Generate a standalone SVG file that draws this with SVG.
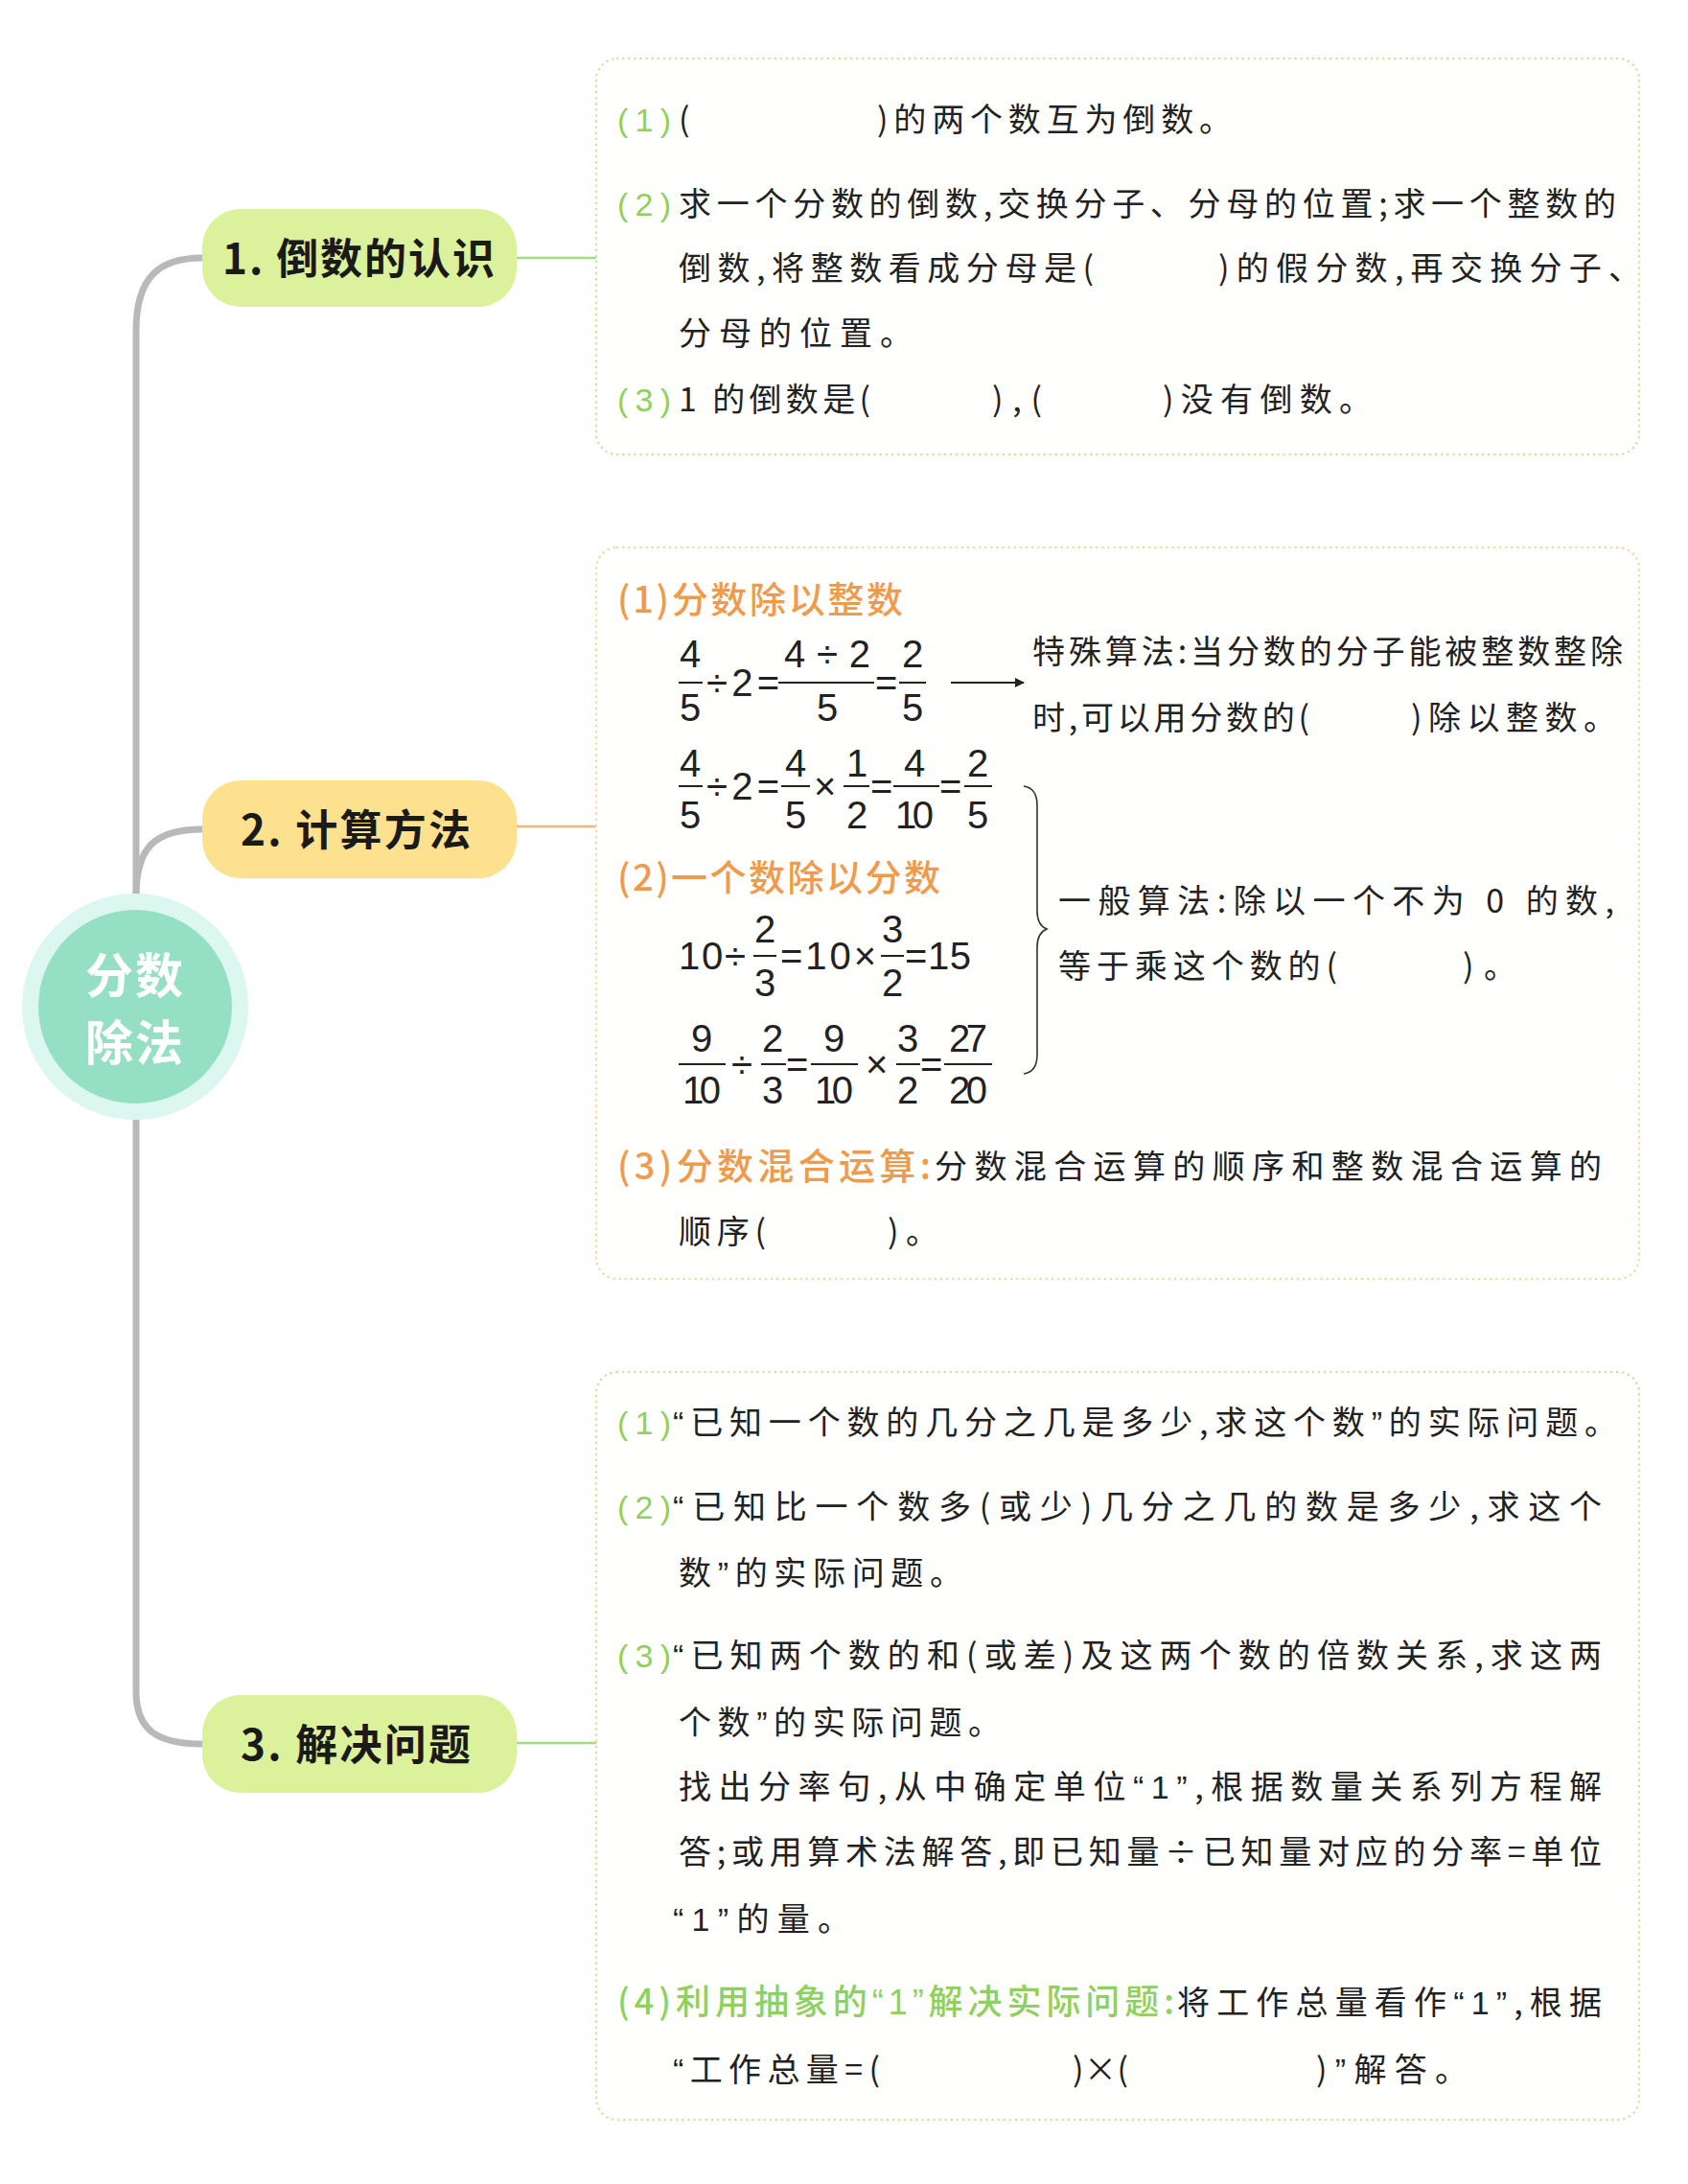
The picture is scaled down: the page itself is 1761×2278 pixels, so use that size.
<svg xmlns="http://www.w3.org/2000/svg" width="1761" height="2278" viewBox="0 0 1761 2278">
<style>
.t{font-family:"Noto Sans CJK SC","Noto Sans",sans-serif;font-size:34px;fill:#222}
.q{font-family:"Liberation Sans",sans-serif}
.lbl{font-family:"Liberation Sans",sans-serif;font-size:34px;fill:#8fd15e}
.hdo{font-family:"Noto Sans CJK SC",sans-serif;font-size:38px;fill:#f09a4c;font-weight:500}
.hdg{font-family:"Noto Sans CJK SC",sans-serif;font-size:36px;fill:#8fd15e;font-weight:500}
.num{font-family:"Liberation Sans",sans-serif;font-size:40px;fill:#222;text-anchor:middle}
.op{font-family:"Liberation Sans",sans-serif;font-size:40px;fill:#222}
.bar{stroke:#222;stroke-width:2}
.ntext{font-family:"Noto Sans CJK SC",sans-serif;font-weight:700;font-size:44px;fill:#1a1a1a}
.box{fill:#fffffd;stroke-width:2.5;stroke-dasharray:0.1 6;stroke-linecap:round}
.trunk{fill:none;stroke:#b9b9b9;stroke-width:7;stroke-linecap:round}
</style>
<defs>
<marker id="arr" viewBox="0 0 10 10" refX="9" refY="5" markerWidth="10" markerHeight="10" markerUnits="userSpaceOnUse" orient="auto"><path d="M0,0 L10,5 L0,10 z" fill="#222"/></marker>
</defs>
<rect width="1761" height="2278" fill="#ffffff"/>

<g id="connectors">
<path class="trunk" d="M211,269 C165,269 142,290 142,345 L142,935"/>
<path class="trunk" d="M142,935 C142,885 160,865 211,865"/>
<path class="trunk" d="M142,1165 L142,1765 C142,1805 165,1819 211,1819"/>
<line x1="539" y1="269" x2="622" y2="269" stroke="#a3dc83" stroke-width="2.5"/>
<line x1="539" y1="862" x2="622" y2="862" stroke="#f3b77a" stroke-width="2.5"/>
<line x1="539" y1="1818" x2="622" y2="1818" stroke="#a3dc83" stroke-width="2.5"/>
</g>

<g id="root">
<circle cx="141" cy="1050" r="118" fill="#dcf6f0"/>
<circle cx="141" cy="1050" r="101" fill="#95dfc4"/>
<text x="141" y="1036" text-anchor="middle" font-family="Noto Sans CJK SC,sans-serif" font-weight="700" font-size="50" fill="#ffffff" letter-spacing="2">分数</text>
<text x="141" y="1106" text-anchor="middle" font-family="Noto Sans CJK SC,sans-serif" font-weight="700" font-size="50" fill="#ffffff" letter-spacing="2">除法</text>
</g>

<g id="node1">
<rect x="211" y="218" width="328" height="102" rx="40" fill="#dcf19b"/>
<text class="ntext" x="232" y="286" textLength="284" lengthAdjust="spacing">1. 倒数的认识</text>
</g>
<g id="node2">
<rect x="211" y="814" width="328" height="102" rx="40" fill="#fde18f"/>
<text class="ntext" x="251" y="882" textLength="240" lengthAdjust="spacing">2. 计算方法</text>
</g>
<g id="node3">
<rect x="211" y="1768" width="328" height="102" rx="40" fill="#dcf19b"/>
<text class="ntext" x="251" y="1836" textLength="240" lengthAdjust="spacing">3. 解决问题</text>
</g>

<g id="box1">
<rect class="box" x="622" y="61" width="1088" height="413" rx="22" stroke="#c9e79c"/>
<text class="lbl" x="644" y="137" textLength="56" lengthAdjust="spacing">(1)</text>
<text class="t" x="708" y="137">(</text>
<text class="t" x="915" y="137" textLength="370" lengthAdjust="spacing">)的两个数互为倒数。</text>
<text class="lbl" x="644" y="225" textLength="56" lengthAdjust="spacing">(2)</text>
<text class="t" x="708" y="225" textLength="978" lengthAdjust="spacing">求一个分数的倒数,交换分子、分母的位置;求一个整数的</text>
<text class="t" x="708" y="292" textLength="433" lengthAdjust="spacing">倒数,将整数看成分母是(</text>
<text class="t" x="1271" y="292" textLength="441" lengthAdjust="spacing">)的假分数,再交换分子、</text>
<text class="t" x="708" y="360" textLength="244" lengthAdjust="spacing">分母的位置。</text>
<text class="lbl" x="644" y="429" textLength="56" lengthAdjust="spacing">(3)</text>
<text class="t" x="708" y="429" textLength="200" lengthAdjust="spacing">1 的倒数是(</text>
<text class="t" x="1035" y="429" textLength="52" lengthAdjust="spacing">),(</text>
<text class="t" x="1213" y="429" textLength="218" lengthAdjust="spacing">)没有倒数。</text>
</g>

<g id="box2">
<rect class="box" x="622" y="571" width="1088" height="763" rx="22" stroke="#f5d7a2"/>
<text class="hdo" x="644" y="639" textLength="298" lengthAdjust="spacing">(1)分数除以整数</text>
<!-- eq1 -->
<text class="num" x="720" y="696">4</text><line class="bar" x1="708" y1="712" x2="733" y2="712"/><text class="num" x="720" y="752">5</text>
<text class="op" x="737" y="726" textLength="76" lengthAdjust="spacing">÷2=</text>
<text class="num" x="863" y="696" textLength="90" lengthAdjust="spacing">4 ÷ 2</text><line class="bar" x1="812" y1="712" x2="912" y2="712"/><text class="num" x="863" y="752">5</text>
<text class="op" x="913" y="726">=</text>
<text class="num" x="952" y="696">2</text><line class="bar" x1="938" y1="712" x2="966" y2="712"/><text class="num" x="952" y="752">5</text>
<line x1="992" y1="712" x2="1068" y2="712" stroke="#222" stroke-width="2" marker-end="url(#arr)"/>
<text class="t" x="1077" y="692" textLength="616" lengthAdjust="spacing">特殊算法:当分数的分子能被整数整除</text>
<text class="t" x="1077" y="761" textLength="289" lengthAdjust="spacing">时,可以用分数的(</text>
<text class="t" x="1472" y="761" textLength="214" lengthAdjust="spacing">)除以整数。</text>
<!-- eq2 -->
<text class="num" x="720" y="810">4</text><line class="bar" x1="708" y1="820" x2="733" y2="820"/><text class="num" x="720" y="864">5</text>
<text class="op" x="737" y="834" textLength="76" lengthAdjust="spacing">÷2=</text>
<text class="num" x="830" y="810">4</text><line class="bar" x1="815" y1="820" x2="845" y2="820"/><text class="num" x="830" y="864">5</text>
<text class="op" x="849" y="834">×</text>
<text class="num" x="894" y="810">1</text><line class="bar" x1="880" y1="820" x2="907" y2="820"/><text class="num" x="894" y="864">2</text>
<text class="op" x="908" y="834">=</text>
<text class="num" x="954" y="810">4</text><line class="bar" x1="932" y1="820" x2="980" y2="820"/><text class="num" x="954" y="864" textLength="40">10</text>
<text class="op" x="980" y="834">=</text>
<text class="num" x="1020" y="810">2</text><line class="bar" x1="1006" y1="820" x2="1035" y2="820"/><text class="num" x="1020" y="864">5</text>
<path d="M1068,820 Q1082,822 1082,840 L1082,950 Q1082,965 1092,969 Q1082,973 1082,988 L1082,1100 Q1082,1118 1068,1120" fill="none" stroke="#333" stroke-width="1.6"/>
<text class="hdo" x="644" y="929" textLength="337" lengthAdjust="spacing">(2)一个数除以分数</text>
<!-- eq3 -->
<text class="op" x="708" y="1011" textLength="70" lengthAdjust="spacing">10÷</text>
<text class="num" x="798" y="983">2</text><line class="bar" x1="786" y1="997" x2="810" y2="997"/><text class="num" x="798" y="1039">3</text>
<text class="op" x="814" y="1011" textLength="100" lengthAdjust="spacing">=10×</text>
<text class="num" x="931" y="983">3</text><line class="bar" x1="919" y1="997" x2="943" y2="997"/><text class="num" x="931" y="1039">2</text>
<text class="op" x="944" y="1011" textLength="69" lengthAdjust="spacing">=15</text>
<!-- eq4 -->
<text class="num" x="732" y="1097">9</text><line class="bar" x1="708" y1="1110" x2="757" y2="1110"/><text class="num" x="732" y="1151" textLength="40">10</text>
<text class="op" x="763" y="1124">÷</text>
<text class="num" x="806" y="1097">2</text><line class="bar" x1="794" y1="1110" x2="820" y2="1110"/><text class="num" x="806" y="1151">3</text>
<text class="op" x="820" y="1124">=</text>
<text class="num" x="870" y="1097">9</text><line class="bar" x1="846" y1="1110" x2="895" y2="1110"/><text class="num" x="870" y="1151" textLength="40">10</text>
<text class="op" x="903" y="1124">×</text>
<text class="num" x="947" y="1097">3</text><line class="bar" x1="935" y1="1110" x2="960" y2="1110"/><text class="num" x="947" y="1151">2</text>
<text class="op" x="960" y="1124">=</text>
<text class="num" x="1010" y="1097" textLength="40">27</text><line class="bar" x1="985" y1="1110" x2="1035" y2="1110"/><text class="num" x="1010" y="1151" textLength="40">20</text>
<text class="t" x="1104" y="952" textLength="580" lengthAdjust="spacing">一般算法:除以一个不为 0 的数,</text>
<text class="t" x="1104" y="1020" textLength="291" lengthAdjust="spacing">等于乘这个数的(</text>
<text class="t" x="1526" y="1020" textLength="56" lengthAdjust="spacing">)。</text>
<text class="hdo" x="644" y="1230" textLength="327" lengthAdjust="spacing">(3)分数混合运算:</text>
<text class="t" x="975" y="1229" textLength="696" lengthAdjust="spacing">分数混合运算的顺序和整数混合运算的</text>
<text class="t" x="708" y="1297" textLength="91" lengthAdjust="spacing">顺序(</text>
<text class="t" x="926" y="1297" textLength="53" lengthAdjust="spacing">)。</text>
</g>

<g id="box3">
<rect class="box" x="622" y="1431" width="1088" height="780" rx="22" stroke="#c9e79c"/>
<text class="lbl" x="644" y="1496" textLength="56" lengthAdjust="spacing">(1)</text>
<text class="t" x="702" y="1496" textLength="985" lengthAdjust="spacing"><tspan class="q">“</tspan>已知一个数的几分之几是多少,求这个数<tspan class="q">”</tspan>的实际问题。</text>
<text class="lbl" x="644" y="1584" textLength="56" lengthAdjust="spacing">(2)</text>
<text class="t" x="702" y="1584" textLength="969" lengthAdjust="spacing"><tspan class="q">“</tspan>已知比一个数多(或少)几分之几的数是多少,求这个</text>
<text class="t" x="708" y="1653" textLength="296" lengthAdjust="spacing">数<tspan class="q">”</tspan>的实际问题。</text>
<text class="lbl" x="644" y="1739" textLength="56" lengthAdjust="spacing">(3)</text>
<text class="t" x="702" y="1739" textLength="969" lengthAdjust="spacing"><tspan class="q">“</tspan>已知两个数的和(或差)及这两个数的倍数关系,求这两</text>
<text class="t" x="708" y="1809" textLength="336" lengthAdjust="spacing">个数<tspan class="q">”</tspan>的实际问题。</text>
<text class="t" x="708" y="1876" textLength="963" lengthAdjust="spacing">找出分率句,从中确定单位<tspan class="q">“1”</tspan>,根据数量关系列方程解</text>
<text class="t" x="708" y="1944" textLength="963" lengthAdjust="spacing">答;或用算术法解答,即已知量÷已知量对应的分率=单位</text>
<text class="t" x="702" y="2014" textLength="185" lengthAdjust="spacing"><tspan class="q">“1”</tspan>的量。</text>
<text class="hdg" x="644" y="2101" textLength="581" lengthAdjust="spacing">(4)利用抽象的<tspan class="q">“1”</tspan>解决实际问题:</text>
<text class="t" x="1228" y="2101" textLength="443" lengthAdjust="spacing">将工作总量看作<tspan class="q">“1”</tspan>,根据</text>
<text class="t" x="702" y="2171" textLength="216" lengthAdjust="spacing"><tspan class="q">“</tspan>工作总量=(</text>
<text class="t" x="1119" y="2171" textLength="58" lengthAdjust="spacing">)×(</text>
<text class="t" x="1373" y="2171" textLength="158" lengthAdjust="spacing">)<tspan class="q">”</tspan>解答。</text>
</g>
</svg>
